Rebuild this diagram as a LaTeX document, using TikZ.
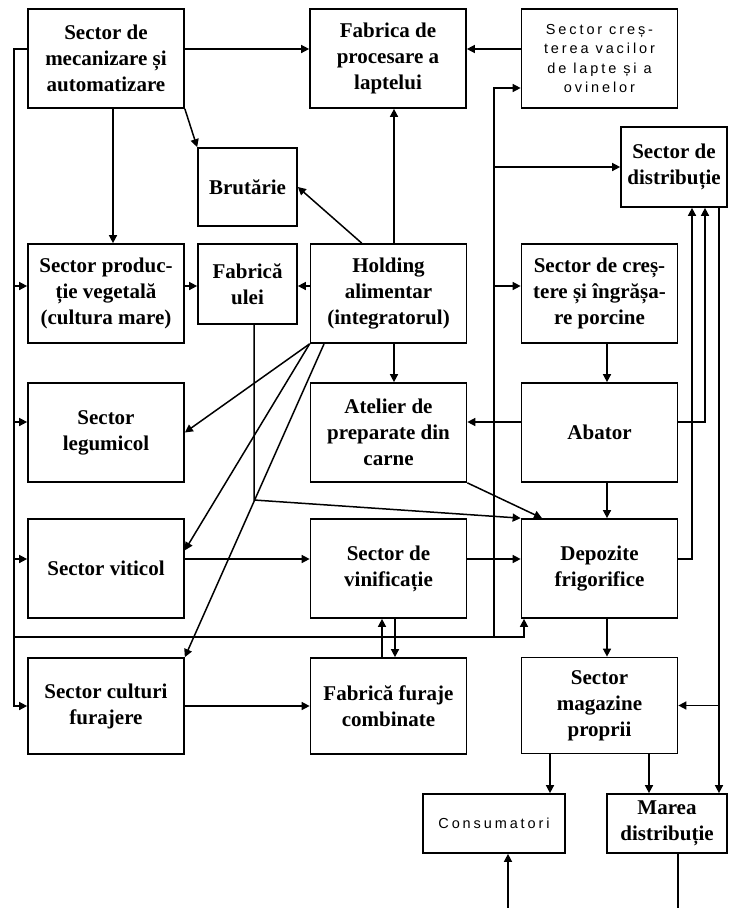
\documentclass[tikz,border=0pt]{standalone}
\usepackage{fontspec}
\setmainfont{Liberation Serif}
\newfontfamily\arialfont[LetterSpace=20]{Liberation Sans}
\usetikzlibrary{arrows.meta}

\tikzset{
  block/.style={draw, line width=1.7pt, align=center, inner sep=1pt,
    minimum width=156pt, minimum height=99pt,
    font=\fontsize{21}{26}\selectfont\bfseries},
  link/.style={line width=1.5pt, -{Triangle[length=8pt,width=8pt]}},
  plain/.style={line width=1.5pt}
}

\begin{document}
\begin{tikzpicture}[x=1pt,y=-1pt]
	\useasboundingbox (0,0) rectangle (738,908);
	
	% boxes
	\node[block] (mec) at (106,58.5) {Sector de\\mecanizare și\\automatizare};
	\node[block] (lapte) at (388,58.5) {Fabrica de\\procesare a\\laptelui};
	\node[block, font=\arialfont\fontsize{14.5}{19.5}\selectfont] (vaci) at (599.5,58.5) {Sector creș-\\terea vacilor\\de lapte și a\\ovinelor};
	\node[block, minimum width=106pt, minimum height=80pt] (distrib) at (674,167) {Sector de\\distribuție};
	\node[block, minimum width=99pt, minimum height=78pt] (brut) at (247.5,187) {Brutărie};
	\node[block] (veg) at (106,293.5) {Sector produc-\\ție vegetală\\(cultura mare)};
	\node[block, minimum width=99pt, minimum height=80pt] (ulei) at (247.5,284) {Fabrică\\ulei};
	\node[block] (hold) at (388.5,293.5) {Holding\\alimentar\\(integratorul)};
	\node[block] (porc) at (599.5,293.5) {Sector de creș-\\tere și îngrășa-\\re porcine};
	\node[block] (legum) at (106,432.5) {Sector\\legumicol};
	\node[block] (atel) at (388.5,432.5) {Atelier de\\preparate din\\carne};
	\node[block] (abat) at (599.5,432.5) {Abator};
	\node[block] (vitic) at (106,568.5) {Sector viticol};
	\node[block] (vinif) at (388.5,568.5) {Sector de\\vinificație};
	\node[block] (depoz) at (599.5,568.5) {Depozite\\frigorifice};
	\node[block, minimum height=96pt] (furaj) at (106,706) {Sector culturi\\furajere};
	\node[block, minimum height=96pt] (ffur) at (388.5,706) {Fabrică furaje\\combinate};
	\node[block, minimum height=96pt] (magaz) at (599.5,705.5) {Sector\\magazine\\proprii};
	\node[block, minimum width=142pt, minimum height=59pt, font=\arialfont\fontsize{14.5}{19}\selectfont] (cons) at (494,823.5) {Consumatori};
	\node[block, minimum width=120pt, minimum height=59pt] (marea) at (667,823.5) {Marea\\distribuție};
	
	% rows and columns of the connectors
	\coordinate (rA) at (0,49);
	\coordinate (rB) at (0,88);
	\coordinate (rD) at (0,286);
	\coordinate (rE) at (0,422);
	\coordinate (rU) at (0,500);
	\coordinate (rF) at (0,559);
	\coordinate (rG) at (0,637);
	\coordinate (cL) at (14,0);
	\coordinate (cV) at (113,0);
	\coordinate (cU) at (254,0);
	\coordinate (cF1) at (382,0);
	\coordinate (cH) at (394,0);
	\coordinate (cF2) at (395,0);
	\coordinate (cM) at (494,0);
	\coordinate (cK) at (524,0);
	\coordinate (cA) at (542,0);
	\coordinate (cC) at (550,0);
	\coordinate (cP) at (607,0);
	\coordinate (cR) at (649,0);
	\coordinate (cD1) at (692,0);
	\coordinate (cD2) at (705,0);
	\coordinate (cD3) at (719,0);
	\coordinate (outL) at (508,908);
	\coordinate (outR) at (678,908);
	
	% top part
	\draw[link] (mec.east |- rA) -- (lapte.west |- rA);
	\draw[link] (vaci.west |- rA) -- (lapte.east |- rA);
	\draw[link] (mec.south -| cV) -- (veg.north -| cV);
	\draw[link] (mec.south east) -- (brut.north west);
	\draw[link] (hold.118) -- (brut.east);
	\draw[link] (hold.north -| cH) -- (lapte.south -| cH);
	\draw[link] (hold.west |- rD) -- (ulei.east |- rD);
	\draw[link] (veg.east |- rD) -- (ulei.west |- rD);
	\draw[link] (hold.south -| cH) -- (atel.north -| cH);
	
	% from the holding to the farms
	\draw[link] (hold.south west) -- (legum.east);
	\draw[link] (hold.south west) -- (vitic.13);
	\draw[link] (hold.218) -- (furaj.north east);
	
	% left bus
	\draw[link] (mec.west |- rA) -| (cL |- furaj.west) -- (furaj.west);
	\draw[link] (cL |- rD) -- (veg.west |- rD);
	\draw[link] (cL |- rE) -- (legum.west |- rE);
	\draw[link] (cL |- rF) -- (vitic.west |- rF);
	\draw[link] (cL |- rG) -| (depoz.south -| cK);
	
	% middle bus
	\draw[link] (cM |- rG) |- (vaci.west |- rB);
	\draw[link] (cM |- distrib.west) -- (distrib.west);
	\draw[link] (cM |- rD) -- (porc.west |- rD);
	
	% oil
	\draw[link] (ulei.south -| cU) -- (cU |- rU) -- (depoz.north west);
	
	% meat
	\draw[link] (porc.south -| cP) -- (abat.north -| cP);
	\draw[link] (abat.west |- rE) -- (atel.east |- rE);
	\draw[link] (abat.south -| cP) -- (depoz.north -| cP);
	\draw[link] (atel.south east) -- (depoz.north -| cA);
	\draw[link] (abat.east |- rE) -| (distrib.south -| cD2);
	
	% wine and fodder
	\draw[link] (vitic.east |- rF) -- (vinif.west |- rF);
	\draw[link] (vinif.east |- rF) -- (depoz.west |- rF);
	\draw[link] (ffur.north -| cF1) -- (vinif.south -| cF1);
	\draw[link] (vinif.south -| cF2) -- (ffur.north -| cF2);
	\draw[link] (furaj.east) -- (ffur.west);
	
	% distribution
	\draw[link] (depoz.east |- rF) -| (distrib.south -| cD1);
	\draw[link] (depoz.south -| cP) -- (magaz.north -| cP);
	\draw[link] (distrib.south -| cD3) -- (marea.north -| cD3);
	\draw[link] (cD3 |- magaz.east) -- (magaz.east);
	\draw[link] (magaz.south -| cC) -- (cons.north -| cC);
	\draw[link] (magaz.south -| cR) -- (marea.north -| cR);
	\draw[plain] (marea.south -| outR) -- (outR);
	\draw[link] (outL) -- (cons.south -| outL);
\end{tikzpicture}
\end{document}
